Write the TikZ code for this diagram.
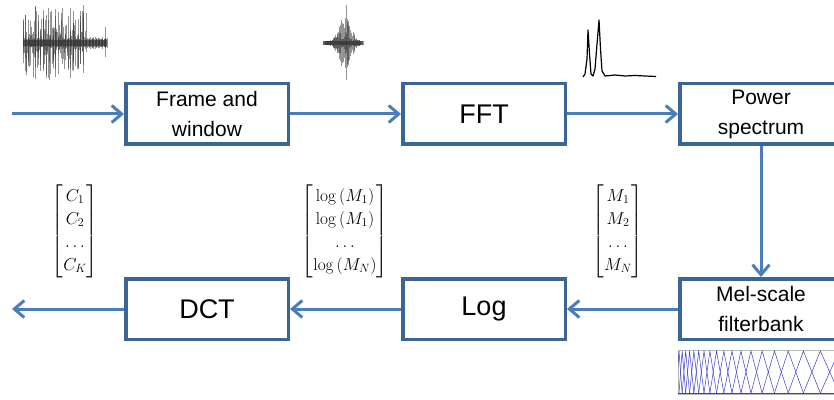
\documentclass[tikz,border=0pt]{standalone}
\usepackage[no-math]{fontspec}
\usepackage{amsmath}
\setmainfont{Liberation Sans}
\usetikzlibrary{arrows.meta}
\definecolor{rahmen}{HTML}{3A6696}
\definecolor{pfeilblau}{HTML}{4A7EBB}
\definecolor{filterblau}{HTML}{3A3ACF}
\definecolor{wellengrau}{HTML}{2A2A2A}
\definecolor{kantengrau}{HTML}{B8B8B8}
\newcommand{\zweizeilig}{\fontsize{21}{30}\selectfont}
\newcommand{\einzeilig}{\fontsize{27}{32}\selectfont}
\newcommand{\vektorschrift}{\fontsize{18}{23}\selectfont}
\tikzset{kasten/.style={draw=rahmen,line width=3.5pt,minimum width=162.5pt,
    minimum height=60.5pt,inner sep=0,align=center,fill=white},
  pfeil/.style={pfeilblau,line width=3pt,-{Straight Barb[length=10pt,width=17pt]}},
  welle/.style={wellengrau,line width=0.6pt,opacity=0.5},
  filterlinie/.style={filterblau,line width=0.5pt}}

\begin{document}
\begin{tikzpicture}[x=1pt,y=1pt]
\useasboundingbox (0,0) rectangle (834,399);
% Bloecke
\node[kasten,font=\zweizeilig] (rahmung) at (207,285) {Frame and\\window};
\node[kasten,font=\einzeilig] (fft) at (484,285) {FFT};
\node[kasten,font=\zweizeilig] (leistung) at (761,285) {Power\\spectrum};
\node[kasten,font=\zweizeilig] (melbank) at (761,90) {Mel-scale\\filterbank};
\node[kasten,font=\einzeilig] (logarithmus) at (484,90) {Log};
\node[kasten,font=\einzeilig] (dct) at (207,90) {DCT};
\coordinate (eingang) at (12,285);
\coordinate (ausgang) at (12,90);
% Pfeile
\draw[pfeil] (eingang) -- (rahmung);
\draw[pfeil] (rahmung) -- (fft);
\draw[pfeil] (fft) -- (leistung);
\draw[pfeil] (leistung) -- (melbank);
\draw[pfeil] (melbank) -- (logarithmus);
\draw[pfeil] (logarithmus) -- (dct);
\draw[pfeil] (dct) -- (ausgang);
% Vektoren
\node[inner sep=0,font=\vektorschrift] (cvektor) at (75,168)
  {$\begin{bmatrix}C_1\\C_2\\\ldots\\C_K\end{bmatrix}$};
\node[inner sep=0,font=\vektorschrift] (logvektor) at (345,168)
  {$\begin{bmatrix}\log\,(M_1)\\\log\,(M_1)\\\ldots\\\log\,(M_N)\end{bmatrix}$};
\node[inner sep=0,font=\vektorschrift] (mvektor) at (618,168)
  {$\begin{bmatrix}M_1\\M_2\\\ldots\\M_N\end{bmatrix}$};
% Sprachsignal
\pgfmathsetseed{4}
\fill[wellengrau,opacity=0.6] (23,353) rectangle (107,359);
\foreach \x in {23,23.6,...,87} {
  \pgfmathsetmacro{\ra}{rnd}\pgfmathsetmacro{\rb}{rnd}
  \draw[welle] (\x,356-4-34*\ra*\ra*\ra) -- (\x,356+4+34*\rb*\rb*\rb);}
\foreach \x in {23,25.5,...,85} {
  \pgfmathsetmacro{\ra}{rnd}
  \draw[welle,line width=1pt] (\x,356-8-28*\ra) -- (\x,356+8+28*\ra);}
\foreach \x in {87.6,88.2,...,107} {
  \pgfmathsetmacro{\ra}{rnd}
  \draw[welle] (\x,356-3-3*\ra) -- (\x,356+3+3*\ra);}
\draw[welle] (105,342) -- (105,372);
% Rahmen
\fill[wellengrau,opacity=0.6] (325,354) rectangle (361,358);
\foreach \x in {323,323.5,...,363} {
  \pgfmathsetmacro{\ra}{rnd}
  \pgfmathsetmacro{\hb}{2+26*exp(-((\x-345)/8)^2)*\ra}
  \draw[welle] (\x,356-\hb) -- (\x,356+\hb);}
\draw[welle] (346,319) -- (346,394);
% Spektrum
\draw[black,line width=1.2pt,line join=round] (583,322) -- (585,325) -- (587,340)
  -- (588,369) -- (589.5,345) -- (591,325) -- (593,323) -- (595,330) -- (597,355)
  -- (599,379) -- (600.5,350) -- (602,328) -- (605,323) -- (615,324) -- (625,323)
  -- (635,323.5) -- (645,323) -- (656,322.5);
% Filterbank
\draw[kantengrau,line width=1pt] (678,5) rectangle (850,49);
\begin{scope}
\clip (678,5) rectangle (834,49);
\draw[filterlinie] (678,6) -- (834,6);
\foreach \i in {0,...,20} {
  \pgfmathsetmacro{\fl}{679+28.5*(exp(0.105*(\i-1))-1)}
  \pgfmathsetmacro{\fm}{679+28.5*(exp(0.105*\i)-1)}
  \pgfmathsetmacro{\fr}{679+28.5*(exp(0.105*(\i+1))-1)}
  \draw[filterlinie] (\fl,6) -- (\fm,48) -- (\fr,6);}
\end{scope}
\end{tikzpicture}
\end{document}
